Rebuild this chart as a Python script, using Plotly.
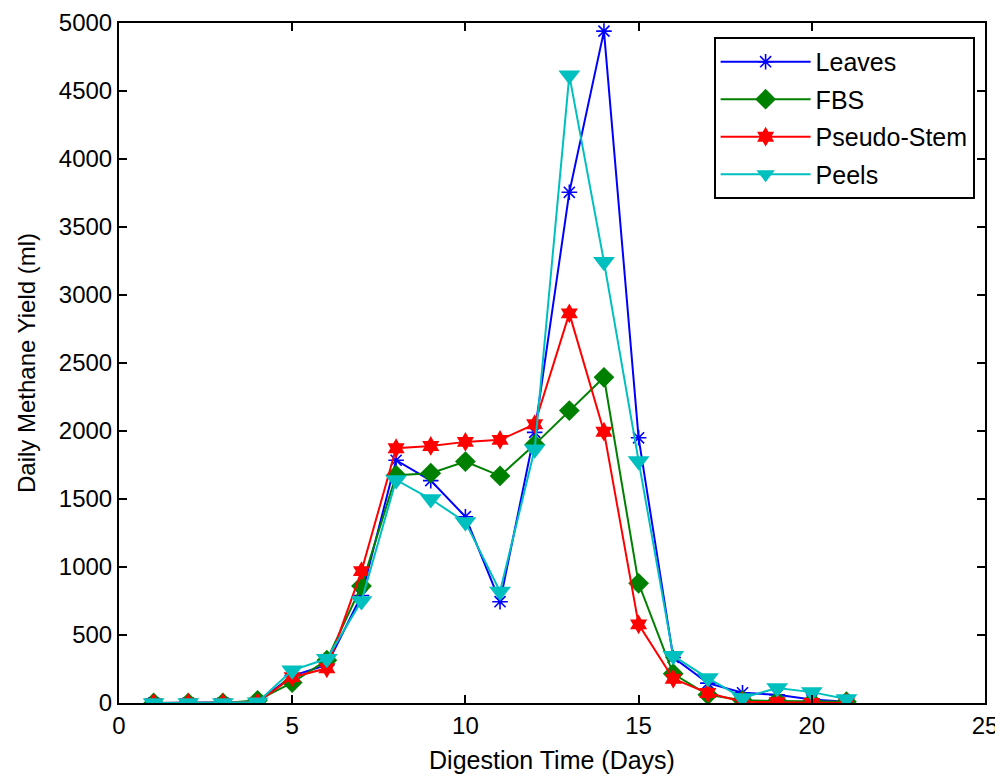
import plotly.graph_objects as go

days = list(range(1, 22))
leaves = [0, 0, 0, 5, 200, 280, 790, 1785, 1635, 1370, 745, 1990, 3755, 4940, 1950, 335, 146, 75, 60, 25, 10]
fbs = [0, 0, 0, 20, 150, 315, 860, 1675, 1690, 1775, 1670, 1900, 2150, 2395, 880, 215, 60, 20, 15, 10, 10]
pseudo_stem = [0, 0, 0, 5, 190, 255, 970, 1873, 1890, 1920, 1935, 2050, 2865, 1995, 578, 178, 73, 10, 5, 0, 0]
peels = [0, 0, 0, 5, 240, 325, 750, 1640, 1500, 1330, 820, 1865, 4615, 3245, 1780, 347, 183, 37, 110, 80, 30]

FONT = "Liberation Sans, Arial, sans-serif"

series = [
    ("Leaves", leaves, "#0000FF", dict(symbol="asterisk-open", size=13, line=dict(width=1.6, color="#0000FF"))),
    ("FBS", fbs, "#008000", dict(symbol="diamond", size=16, color="#008000")),
    ("Pseudo-Stem", pseudo_stem, "#FF0000", dict(symbol="hexagram", size=15, color="#FF0000")),
    ("Peels", peels, "#00BFBF", dict(symbol="triangle-down", size=19, color="#00BFBF")),
]

fig = go.Figure()
for name, vals, col, mk in series:
    fig.add_trace(go.Scatter(
        x=days, y=vals, name=name, mode="lines+markers",
        line=dict(color=col, width=2), marker=mk, legendgroup=name,
    ))

axis_common = dict(
    showline=True, linecolor="black", linewidth=2, mirror="ticks",
    ticks="inside", ticklen=8, tickwidth=1.5, tickcolor="black",
    showgrid=False, zeroline=False, automargin=False,
    ticklabeloverflow="allow",
    tickfont=dict(family=FONT, size=24, color="black"),
)

fig.update_xaxes(range=[0, 25], dtick=5, tick0=0,
                 title=dict(text="Digestion Time (Days)", font=dict(family=FONT, size=25, color="black"), standoff=14),
                 **axis_common)
fig.update_yaxes(range=[0, 5000], dtick=500, tick0=0,
                 title=dict(text="Daily Methane Yield (ml)", font=dict(family=FONT, size=24, color="black"), standoff=16),
                 **axis_common)

fig.update_layout(
    width=995, height=768,
    margin=dict(l=111, r=18, t=15, b=73),
    paper_bgcolor="white", plot_bgcolor="white",
    font=dict(family=FONT, color="black"),
    legend=dict(
        x=0.988, y=0.9795, xanchor="right", yanchor="top",
        bgcolor="white", bordercolor="black", borderwidth=2,
        font=dict(family=FONT, size=25, color="black"),
        tracegroupgap=2, itemwidth=90,
    ),
)

fig.write_html("out.html")
